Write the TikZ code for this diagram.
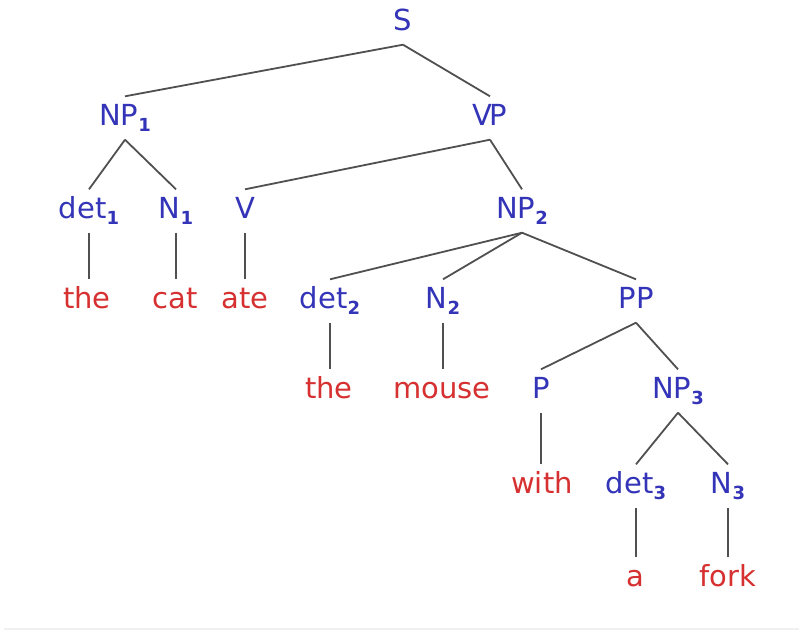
\documentclass[tikz,border=0pt]{standalone}
\usepackage{fontspec}
\setmainfont{DejaVu Sans}
\definecolor{catblue}{RGB}{52,52,185}
\definecolor{wordred}{RGB}{214,48,48}
\definecolor{edgegray}{RGB}{80,80,80}
\newcommand{\subnum}[1]{\raisebox{-0.22em}{\fontsize{18}{18}\selectfont\bfseries #1}}
\begin{document}
\begin{tikzpicture}[x=1pt,y=-1pt,
  lab/.style={font=\fontsize{29}{29}\selectfont, text height=20pt, text depth=5pt, inner xsep=0pt, inner ysep=9pt},
  cat/.style={lab, text=catblue},
  word/.style={lab, text=wordred},
  edge/.style={draw=edgegray, line width=1.8pt}]
\useasboundingbox (0,0) rectangle (803,633);
\fill[white] (0,0) rectangle (803,633);
\draw[gray!12, line width=1.5pt] (4,629) -- (799,629);
% categories
\node[cat] (S) at (403,23) {S};
\node[cat] (NP1) at (125,118) {NP\subnum{1}};
\node[cat] (VP) at (490,118) {V\kern-3ptP};
\node[cat] (det1) at (89,211) {det\subnum{1}};
\node[cat] (N1) at (176,211) {N\subnum{1}};
\node[cat] (V) at (245,211) {V};
\node[cat] (NP2) at (522,211) {NP\subnum{2}};
\node[cat] (det2) at (330,301) {det\subnum{2}};
\node[cat] (N2) at (443,301) {N\subnum{2}};
\node[cat] (PP) at (636,301) {PP};
\node[cat] (P) at (541,391) {P};
\node[cat] (NP3) at (678,391) {NP\subnum{3}};
\node[cat] (det3) at (636,486) {det\subnum{3}};
\node[cat] (N3) at (728,486) {N\subnum{3}};
% words
\node[word] (the1) at (87,301) {the};
\node[word] (cat) at (175,301) {cat};
\node[word] (ate) at (245,301) {ate};
\node[word] (the2) at (329,391) {the};
\node[word] (mouse) at (442,391) {mouse};
\node[word] (with) at (542,486) {with};
\node[word] (a) at (635,579) {a};
\node[word] (fork) at (728,579) {fork};
% edges
\draw[edge] (S.south) -- (NP1.north);
\draw[edge] (S.south) -- (VP.north);
\draw[edge] (NP1.south) -- (det1.north);
\draw[edge] (NP1.south) -- (N1.north);
\draw[edge] (VP.south) -- (V.north);
\draw[edge] (VP.south) -- (NP2.north);
\draw[edge] (NP2.south) -- (det2.north);
\draw[edge] (NP2.south) -- (N2.north);
\draw[edge] (NP2.south) -- (PP.north);
\draw[edge] (PP.south) -- (P.north);
\draw[edge] (PP.south) -- (NP3.north);
\draw[edge] (NP3.south) -- (det3.north);
\draw[edge] (NP3.south) -- (N3.north);
\draw[edge] (det1.south) -- (det1.south |- the1.north);
\draw[edge] (N1.south) -- (N1.south |- cat.north);
\draw[edge] (V.south) -- (V.south |- ate.north);
\draw[edge] (det2.south) -- (det2.south |- the2.north);
\draw[edge] (N2.south) -- (N2.south |- mouse.north);
\draw[edge] (P.south) -- (P.south |- with.north);
\draw[edge] (det3.south) -- (det3.south |- a.north);
\draw[edge] (N3.south) -- (N3.south |- fork.north);
\end{tikzpicture}
\end{document}
